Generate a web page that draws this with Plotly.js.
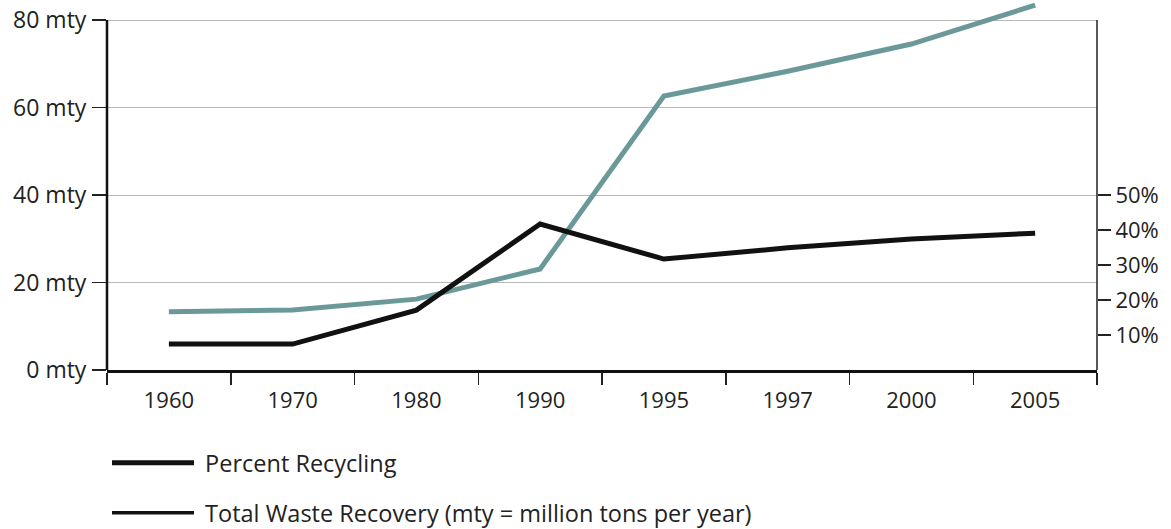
<!DOCTYPE html>
<html>
<head>
<meta charset="utf-8">
<script src="https://cdn.plot.ly/plotly-3.0.1.min.js"></script>
<style>
html,body{margin:0;padding:0;background:#fff;}
#chart{width:1171px;height:529px;}
</style>
</head>
<body>
<div id="chart"></div>
<script>
// Categories (years)
const years = ['1960','1970','1980','1990','1995','1997','2000','2005'];
// Percent Recycling (right axis, %)
const percentRecycling = [7.4, 7.4, 17.1, 41.7, 31.7, 34.9, 37.4, 39.1];
// Total Waste Recovery (left axis, million tons per year)
const totalRecovery = [13.3, 13.7, 16.2, 23.1, 62.6, 68.3, 74.5, 83.4];
// Axis ticks
const leftTicks = [0, 20, 40, 60, 80];
const leftTickText = ['0 mty', '20 mty', '40 mty', '60 mty', '80 mty'];
const rightTicks = [10, 20, 30, 40, 50];
const rightTickText = ['10%', '20%', '30%', '40%', '50%'];
// Legend labels
const labelPercent = 'Percent Recycling';
const labelTotal = 'Total Waste Recovery (mty = million tons per year)';

const FONT = '"Open Sans", sans-serif';
const TEXT = '#222';

// left axis: 0..80 over the framed area; a little headroom above for the last point
const leftMax = 80;
const leftTop = 83.886;
const rightTop = leftTop * 100 / leftMax;

const traces = [
  {
    x: years, y: totalRecovery, yaxis: 'y', type: 'scatter', mode: 'lines',
    line: {color: '#6b9999', width: 5}, showlegend: false, name: labelTotal
  },
  {
    x: years, y: percentRecycling, yaxis: 'y2', type: 'scatter', mode: 'lines',
    line: {color: '#111', width: 5}, showlegend: false, name: labelPercent
  },
  // legend-only entries (reference shows black swatches for both)
  {
    x: [null], y: [null], type: 'scatter', mode: 'lines', name: '\u00a0' + labelPercent,
    line: {color: '#111', width: 5}, legend: 'legend', showlegend: true, hoverinfo: 'skip'
  },
  {
    x: [null], y: [null], type: 'scatter', mode: 'lines', name: '\u00a0' + labelTotal,
    line: {color: '#111', width: 3.5}, legend: 'legend2', showlegend: true, hoverinfo: 'skip'
  }
];

const layout = {
  width: 1171, height: 529,
  margin: {l: 107, r: 74, t: 3, b: 159, autoexpand: false},
  paper_bgcolor: '#fff', plot_bgcolor: '#fff',
  font: {family: FONT, size: 22, color: TEXT},
  xaxis: {
    type: 'category', categoryorder: 'array', categoryarray: years,
    range: [-0.5, years.length - 0.5],
    tickson: 'boundaries', ticks: 'outside', ticklen: 12, tickwidth: 1.5, tickcolor: '#222',
    showline: true, linecolor: '#111', linewidth: 2.5,
    showgrid: false, zeroline: false, ticklabelstandoff: 9,
    tickfont: {family: FONT, size: 22, color: TEXT},
    fixedrange: true
  },
  yaxis: {
    range: [0, leftTop], tickvals: leftTicks, ticktext: leftTickText,
    ticks: 'outside', ticklen: 14, tickwidth: 1.5, tickcolor: '#222',
    showline: false,
    showgrid: true, gridcolor: '#b8b8b8', gridwidth: 1,
    zeroline: false, ticklabelstandoff: 1,
    tickfont: {family: FONT, size: 23, color: TEXT},
    fixedrange: true
  },
  yaxis2: {
    overlaying: 'y', side: 'right', anchor: 'x',
    range: [0, rightTop], tickvals: rightTicks, ticktext: rightTickText,
    ticks: 'outside', ticklen: 13, tickwidth: 1.5, tickcolor: '#222',
    showline: false,
    showgrid: false, zeroline: false,
    tickfont: {family: FONT, size: 22, color: TEXT},
    fixedrange: true
  },
  // axis frame lines only over the 0..80 span, as in the reference
  shapes: [
    {type: 'line', xref: 'paper', yref: 'y', x0: 0, x1: 0, y0: 0, y1: leftMax,
     line: {color: '#111', width: 2.5}},
    {type: 'line', xref: 'paper', yref: 'y', x0: 1, x1: 1, y0: 0, y1: leftMax,
     line: {color: '#222', width: 1.5}}
  ],
  legend: {
    x: 0, xanchor: 'left', y: -0.1935, yanchor: 'top',
    itemwidth: 82, bgcolor: 'rgba(0,0,0,0)',
    font: {family: FONT, size: 23.5, color: TEXT}
  },
  legend2: {
    x: 0, xanchor: 'left', y: -0.3297, yanchor: 'top',
    itemwidth: 82, bgcolor: 'rgba(0,0,0,0)',
    font: {family: FONT, size: 23.5, color: TEXT}
  },
  showlegend: true
};

Plotly.newPlot('chart', traces, layout, {displayModeBar: false, staticPlot: true});
</script>
</body>
</html>
